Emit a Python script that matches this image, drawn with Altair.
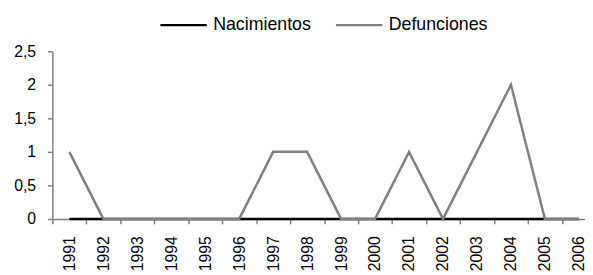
import altair as alt
import pandas as pd

years = [str(y) for y in range(1991, 2007)]
nacimientos = [0, 0, 0, 0, 0, 0, 0, 0, 0, 0, 0, 0, 0, 0, 0, 0]
defunciones = [1, 0, 0, 0, 0, 0, 1, 1, 0, 0, 1, 0, 1, 2, 0, 0]
series_names = ["Nacimientos", "Defunciones"]
series_colors = ["#000000", "#808080"]

rows = []
for name, vals in zip(series_names, [nacimientos, defunciones]):
    for y, v in zip(years, vals):
        rows.append({"Año": y, "Serie": name, "Valor": v})
df = pd.DataFrame(rows)

FONT = "Liberation Sans"
FS = 16

x = alt.X(
    "Año:O",
    title=None,
    sort=years,
    scale=alt.Scale(type="band", range=[0, 551], paddingInner=0, paddingOuter=0),
    axis=alt.Axis(
        labelAngle=270, tickBand="extent", tickSize=5, labelPadding=12,
        domainColor="#808080", tickColor="#808080", labelColor="black",
        labelFont=FONT, labelFontSize=FS, labelOverlap=False, grid=False,
        domainWidth=1.5, tickWidth=1.5,
    ),
)
y = alt.Y(
    "Valor:Q",
    title=None,
    scale=alt.Scale(domain=[0, 2.5], nice=False),
    axis=alt.Axis(
        values=[0, 0.5, 1, 1.5, 2, 2.5], tickSize=5, labelPadding=12,
        labelExpr="replace(toString(datum.value), '.', ',')",
        domainColor="#808080", tickColor="#808080", labelColor="black",
        labelFont=FONT, labelFontSize=FS, grid=False,
        domainWidth=1.5, tickWidth=1.5,
    ),
)
color = alt.Color(
    "Serie:N",
    scale=alt.Scale(domain=series_names, range=series_colors),
    legend=alt.Legend(
        title=None, orient="none", legendX=108, legendY=-51.5, direction="horizontal",
        symbolType="stroke", symbolSize=2209, symbolStrokeWidth=2.5,
        labelFont=FONT, labelFontSize=18, labelColor="black", labelOffset=5,
        columnPadding=19, padding=0,
    ),
)

base = alt.Chart(df).encode(x=x, y=y, color=color)
chart = alt.layer(
    base.transform_filter(alt.datum.Serie == "Nacimientos").mark_line(strokeWidth=2.5),
    base.transform_filter(alt.datum.Serie == "Defunciones").mark_line(strokeWidth=2.5),
).properties(
    width=540, height=170,
    autosize=alt.AutoSizeParams(type="none"),
    padding={"left": 45, "top": 42, "right": 0, "bottom": 55},
).configure_view(stroke=None)

chart.save("out.html", embed_options={"renderer": "svg", "actions": False})
